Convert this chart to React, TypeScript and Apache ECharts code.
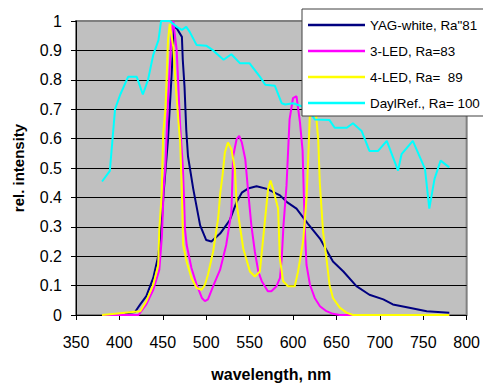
import React, { useEffect, useRef } from "react";
import * as echarts from "echarts";

// Wavelengths (nm) and relative intensities
const yagWl = [406, 418, 424, 431, 439, 445, 449, 451, 456, 460, 463, 466, 472, 473, 475, 477, 479, 485, 493, 500, 506, 516, 527, 535, 541, 548, 558, 570, 585, 593, 604, 617, 631, 646, 658, 673, 688, 704, 715, 734, 754, 780];
const yagVal = [0.005, 0.01, 0.036, 0.064, 0.126, 0.204, 0.328, 0.418, 0.598, 0.81, 0.98, 0.975, 0.946, 0.868, 0.777, 0.63, 0.54, 0.43, 0.305, 0.255, 0.25, 0.277, 0.322, 0.384, 0.416, 0.43, 0.438, 0.429, 0.407, 0.384, 0.362, 0.311, 0.26, 0.182, 0.148, 0.098, 0.069, 0.053, 0.036, 0.025, 0.013, 0.008];

const led3Wl = [380, 422, 431, 439, 446, 449, 451, 453, 456, 460, 462, 466, 470, 473, 474.5, 475.5, 477.5, 483, 489, 495, 498.5, 502, 508, 516, 523, 529, 531, 535, 538, 541, 545, 548, 552, 556, 560, 564, 571, 575, 581, 585, 587, 589, 592.5, 596, 600, 604, 608, 611, 613.5, 615.5, 619.5, 625, 631, 638.5, 646, 654, 780];
const led3Val = [0, 0, 0.036, 0.086, 0.154, 0.27, 0.43, 0.51, 0.73, 0.957, 1.0, 0.9, 0.643, 0.508, 0.395, 0.294, 0.238, 0.16, 0.103, 0.058, 0.047, 0.053, 0.098, 0.154, 0.238, 0.35, 0.54, 0.598, 0.609, 0.587, 0.53, 0.43, 0.305, 0.216, 0.148, 0.115, 0.081, 0.081, 0.098, 0.126, 0.193, 0.305, 0.44, 0.665, 0.738, 0.744, 0.655, 0.56, 0.3, 0.171, 0.103, 0.058, 0.03, 0.013, 0.004, 0, 0];

const led4Wl = [380, 424, 431, 439, 444.7, 446, 448.6, 450.5, 453, 456, 458, 462, 466, 470, 471.6, 473.5, 477.4, 483, 489, 494.7, 498.5, 502, 508, 513.8, 516, 519, 521.5, 525, 529, 533, 535, 542.6, 550.3, 556, 561.8, 567.5, 571.3, 574, 577, 582.8, 584.8, 588.6, 594.3, 602, 605.8, 611.6, 615.5, 617.3, 619.3, 621.2, 623, 625, 629, 630.8, 634.6, 638.5, 642, 646, 653.8, 661.5, 669, 780];
const led4Val = [0, 0.013, 0.047, 0.103, 0.17, 0.294, 0.407, 0.62, 0.7, 0.935, 0.99, 0.912, 0.733, 0.587, 0.45, 0.238, 0.182, 0.126, 0.092, 0.086, 0.103, 0.137, 0.216, 0.33, 0.41, 0.48, 0.553, 0.587, 0.564, 0.497, 0.38, 0.227, 0.148, 0.131, 0.148, 0.317, 0.429, 0.457, 0.429, 0.362, 0.193, 0.115, 0.098, 0.098, 0.148, 0.25, 0.395, 0.52, 0.676, 0.733, 0.76, 0.733, 0.598, 0.452, 0.283, 0.193, 0.103, 0.058, 0.025, 0.008, 0, 0];

const daylWl = [380, 389, 395, 401, 410, 420, 427, 433, 439, 445, 448, 458, 466, 472, 477, 481, 489, 500, 508, 520, 529, 539, 550, 562, 568, 579, 587, 591, 600, 610, 620, 625, 642, 648, 662, 669, 679, 688, 698, 708, 721, 725, 738, 752, 757, 763, 770, 780];
const daylVal = [0.454, 0.49, 0.7, 0.75, 0.81, 0.81, 0.75, 0.8, 0.885, 0.935, 1.0, 1.0, 0.98, 0.97, 0.98, 0.963, 0.918, 0.916, 0.9, 0.868, 0.887, 0.856, 0.856, 0.81, 0.783, 0.78, 0.72, 0.716, 0.72, 0.71, 0.69, 0.665, 0.663, 0.637, 0.637, 0.652, 0.626, 0.558, 0.558, 0.592, 0.491, 0.547, 0.592, 0.497, 0.362, 0.463, 0.525, 0.502];

const seriesNames = ['YAG-white, Ra"81', "3-LED, Ra=83", "4-LED, Ra=  89", "DaylRef., Ra= 100"];
const seriesColors = ["#000080", "#FF00FF", "#FFFF00", "#00FFFF"];

const FONT = "'Liberation Sans', Arial, sans-serif";

function pairs(w: number[], v: number[]) {
  return w.map((x, i) => [x, v[i]]);
}

export default function App() {
  const ref = useRef<HTMLDivElement>(null);
  useEffect(() => {
    if (!ref.current) return;
    const chart = echarts.init(ref.current, undefined, { renderer: "svg" });
    const data = [
      pairs(yagWl, yagVal),
      pairs(led3Wl, led3Val),
      pairs(led4Wl, led4Val),
      pairs(daylWl, daylVal),
    ];
    chart.setOption({
      animation: false,
      textStyle: { fontFamily: FONT },
      grid: {
        left: 76,
        right: 16,
        top: 21,
        bottom: 70,
        show: true,
        backgroundColor: "#C0C0C0",
        borderColor: "#808080",
        borderWidth: 2,
      },
      legend: {
        orient: "vertical",
        left: 302,
        top: 9,
        backgroundColor: "#FFFFFF",
        borderColor: "#404040",
        borderWidth: 1,
        borderRadius: 0,
        padding: [8, 12, 5, 6],
        icon: "rect",
        itemWidth: 57,
        itemHeight: 2.5,
        itemGap: 10,
        itemStyle: { borderWidth: 0 },
        textStyle: { fontFamily: FONT, fontSize: 13.4, lineHeight: 16, color: "#000" },
        data: seriesNames,
      },
      xAxis: {
        type: "value",
        min: 350,
        max: 800,
        interval: 50,
        axisLine: { show: true, onZero: false, lineStyle: { color: "#000", width: 1 } },
        axisTick: { show: true, length: 5, lineStyle: { color: "#000" } },
        axisLabel: { color: "#000", fontSize: 16, fontFamily: FONT, margin: 19 },
        splitLine: { show: false },
        name: "wavelength, nm",
        nameLocation: "middle",
        nameGap: 51,
        nameTextStyle: { color: "#000", fontSize: 16, fontWeight: "bold", fontFamily: FONT },
      },
      yAxis: {
        type: "value",
        min: 0,
        max: 1,
        interval: 0.1,
        axisLine: { show: true, lineStyle: { color: "#000", width: 1 } },
        axisTick: { show: true, length: 5, lineStyle: { color: "#000" } },
        axisLabel: {
          color: "#000",
          fontSize: 16,
          fontFamily: FONT,
          margin: 14,
          formatter: (v: number) => String(Math.round(v * 10) / 10),
        },
        splitLine: { show: true, showMaxLine: false, lineStyle: { color: "#000", width: 1 } },
        name: "rel. intensity",
        nameLocation: "middle",
        nameRotate: 90,
        nameGap: 50,
        nameTextStyle: { color: "#000", fontSize: 15, fontWeight: "bold", fontFamily: FONT },
      },
      series: seriesNames.map((name, i) => ({
        name,
        type: "line",
        data: data[i],
        symbol: "none",
        showSymbol: false,
        smooth: false,
        color: seriesColors[i],
        lineStyle: { color: seriesColors[i], width: 2 },
      })),
    });
    return () => chart.dispose();
  }, []);
  return (
    <div
      ref={ref}
      style={{ position: "fixed", left: 0, top: 0, width: 483, height: 387, background: "#fff" }}
    />
  );
}
